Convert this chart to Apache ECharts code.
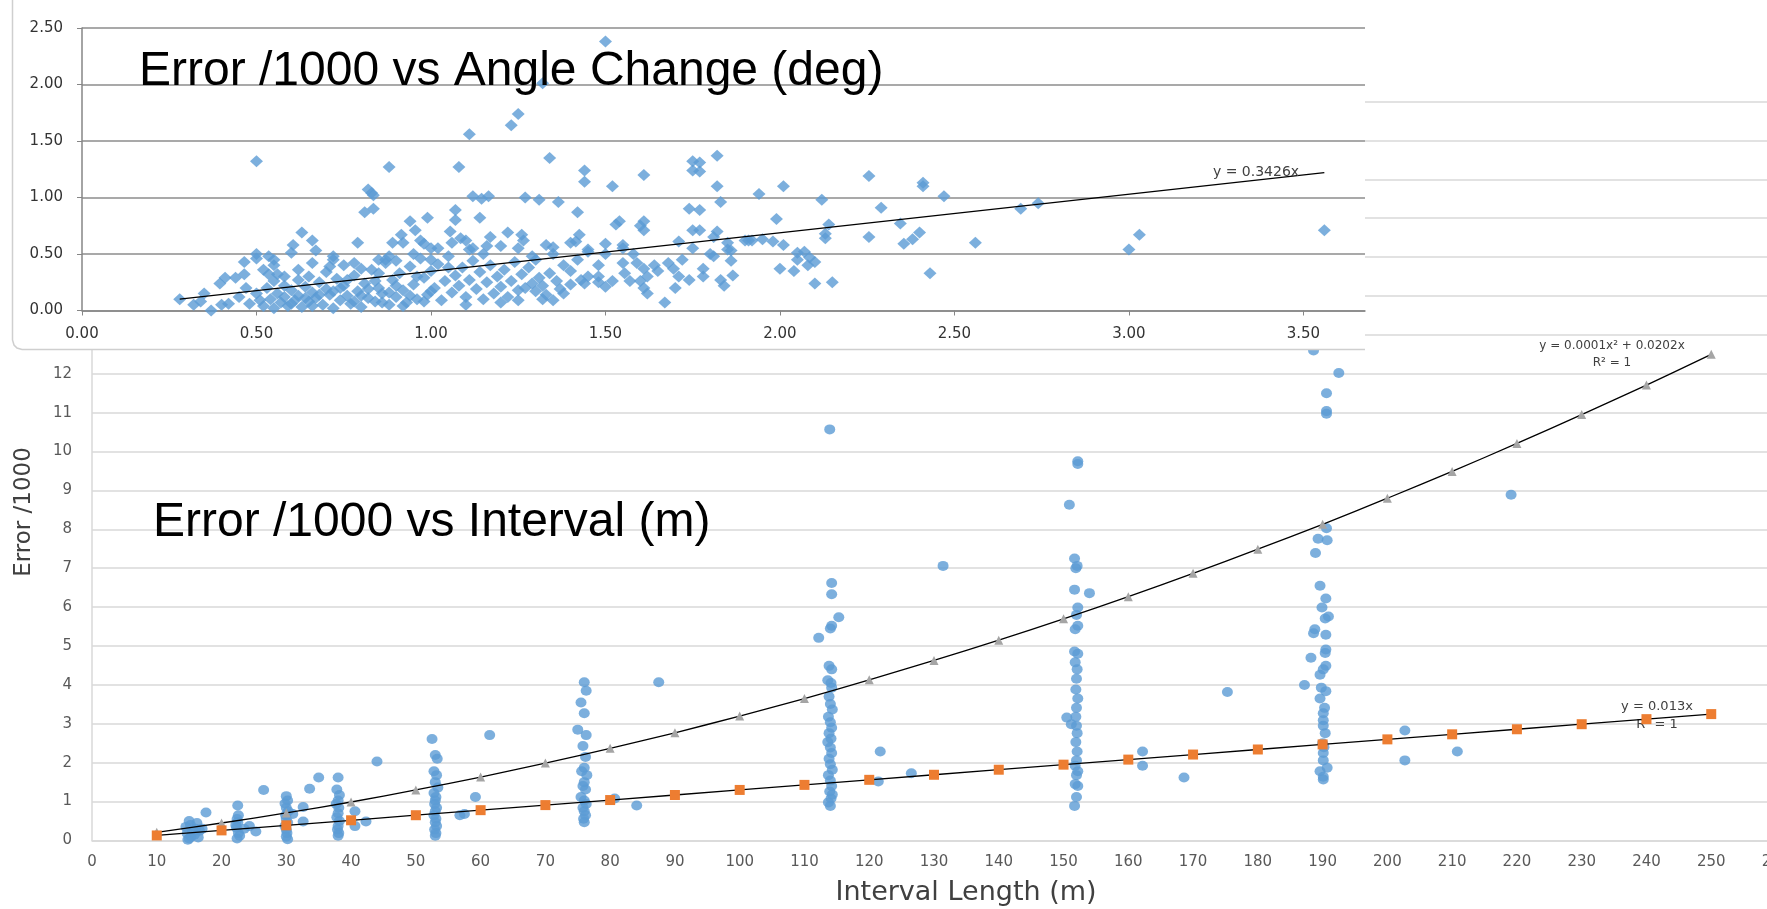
<!DOCTYPE html>
<html><head><meta charset="utf-8">
<script src="https://cdn.jsdelivr.net/npm/echarts@6.0.0/dist/echarts.min.js"></script>
<style>html,body{margin:0;padding:0;background:#fff;overflow:hidden}#c{width:1767px;height:909px}</style>
</head><body><div id="c"></div>
<script>
// ---------- Bottom chart: Error /1000 vs Interval (m) ----------
const intervalTitle = 'Error /1000 vs Interval (m)';
const intervalXName = 'Interval Length (m)';
const intervalYName = 'Error /1000';
const intervalXRange = [0, 260, 10];
const intervalYRange = [0, 19, 1];
const intervalErrPoints = [
  [15,0.05],[15.3,0.1],[14.7,0.18],[16,0.3],[15.2,0.4],[16.6,0.25],[15.8,0.15],[14.5,0.35],[16.2,0.45],[15,0.5],[17,0.3],[14.8,0.02],[16.4,0.08],[15.5,0.22],[17.6,0.72],
  [22.5,0.9],[22.6,0.65],[22.4,0.55],[22.5,0.47],[22.3,0.33],[22.6,0.19],[22.4,0.05],[22.8,0.12],[22.2,0.4],[24.3,0.37],[25.3,0.23],[26.5,1.3],[23.5,0.3],
  [30,1.14],[30.2,1.03],[29.8,0.95],[30,0.84],[30.3,0.75],[29.9,0.65],[30,0.56],[30.2,0.46],[29.8,0.37],[30,0.28],[30.1,0.19],[30,0.1],[30.2,0.03],[32.6,0.86],[32.6,0.49],[33.6,1.33],[35,1.62],[31,0.68],
  [38,1.62],[37.8,1.31],[38.2,1.17],[38,1.03],[37.7,0.94],[38.1,0.84],[38,0.7],[37.8,0.6],[38.2,0.5],[38,0.37],[37.9,0.28],[38.1,0.19],[38,0.12],[40.6,0.75],[40.6,0.37],[42.3,0.49],[44,2.03],
  [52.5,2.61],[53,2.2],[53.3,2.1],[52.8,1.78],[53.2,1.68],[53,1.5],[53.4,1.36],[52.8,1.22],[53.1,1.12],[53,1.03],[52.9,0.94],[53.2,0.84],[53,0.75],[52.8,0.65],[53.1,0.56],[53,0.47],[53.2,0.37],[52.9,0.28],[53.1,0.19],[53,0.12],[56.8,0.65],[59.2,1.12],[61.4,2.71],[57.5,0.68],
  [76,4.07],[76.3,3.85],[75.5,3.55],[76,3.27],[75,2.85],[76.3,2.71],[75.8,2.43],[76.2,2.15],[76,1.87],[75.6,1.78],[76.4,1.68],[76,1.5],[75.8,1.4],[76.2,1.31],[75.5,1.12],[76,1.03],[76.3,0.94],[75.8,0.84],[76,0.75],[76.2,0.65],[75.9,0.56],[76,0.47],[80.7,1.08],[84.1,0.9],[87.5,4.07],
  [113.9,10.57],[114.2,6.62],[114.2,6.33],[115.3,5.74],[114.2,5.52],[114,5.45],[112.2,5.21],[113.8,4.49],[114.2,4.4],[113.6,4.12],[114.1,4.05],[114.2,3.93],[113.8,3.7],[114,3.51],[114.3,3.37],[113.7,3.18],[114,3.04],[114.2,2.9],[113.8,2.76],[114.1,2.62],[113.6,2.53],[114,2.39],[114.2,2.25],[113.8,2.1],[114,1.96],[114.3,1.82],[113.7,1.68],[114,1.54],[114.2,1.4],[113.9,1.26],[114.1,1.08],[114,0.89],[113.7,0.98],[114.3,1.18],
  [121.7,2.29],[121.4,1.52],[126.5,1.73],[131.4,7.06],
  [152.2,9.75],[152.2,9.68],[150.9,8.63],[151.7,7.25],[152.1,7.06],[151.9,7.0],[151.7,6.45],[154,6.36],[152.2,5.99],[152,5.8],[152.2,5.52],[151.8,5.43],[151.7,4.86],[152.2,4.8],[151.8,4.58],[152.1,4.4],[152,4.16],[151.9,3.88],[152.2,3.65],[152,3.41],[151.9,3.18],[150.5,3.16],[151.2,2.99],[152,2.95],[152.1,2.76],[151.9,2.53],[152.1,2.29],[152,2.06],[151.8,1.92],[152.2,1.78],[152,1.68],[151.8,1.45],[152.2,1.4],[152,1.12],[151.7,0.89],
  [162.2,2.29],[162.2,1.92],[168.6,1.62],[175.3,3.82],[187.2,4.0],
  [188.6,12.6],[192.5,12.02],[190.6,11.5],[190.6,11.04],[190.6,10.97],[190.6,8.03],[189.3,7.76],[190.7,7.72],[188.9,7.39],[189.6,6.55],[190.5,6.22],[189.9,5.99],[190.4,5.71],[190.9,5.76],[188.8,5.43],[188.6,5.33],[190.5,5.29],[190.5,4.91],[190.4,4.82],[188.2,4.7],[190.5,4.49],[190.1,4.4],[189.6,4.26],[189.8,3.93],[190.5,3.84],[189.6,3.65],[190.3,3.41],[190.1,3.27],[190.1,3.09],[190.1,2.95],[190.4,2.76],[190.1,2.25],[190.1,2.06],[190.7,1.87],[189.6,1.78],[190.1,1.64],[190.1,1.57],[190,2.5],[190.2,2.4],
  [202.7,2.83],[202.7,2.06],[210.8,2.29],[219.1,8.89]
];
const fitX = [10,20,30,40,50,60,70,80,90,100,110,120,130,140,150,160,170,180,190,200,210,220,230,240,250];
const linearFitY = [0.13,0.26,0.39,0.52,0.65,0.78,0.91,1.04,1.17,1.30,1.43,1.56,1.69,1.82,1.95,2.08,2.21,2.34,2.47,2.60,2.73,2.86,2.99,3.12,3.25];
const polyFitY = [0.21,0.45,0.71,0.99,1.30,1.63,1.99,2.37,2.77,3.20,3.65,4.13,4.63,5.15,5.70,6.27,6.87,7.49,8.13,8.80,9.49,10.21,10.95,11.71,12.50];
const polyEqText = ['y = 0.0001x² + 0.0202x', 'R² = 1'];
const linEqText = ['y = 0.013x', 'R² = 1'];

// ---------- Top chart: Error /1000 vs Angle Change (deg) ----------
const angleTitle = 'Error /1000 vs Angle Change (deg)';
const angleXRange = [0, 3.6765, 0.5];
const angleYRange = [0, 2.5, 0.5];
const angleErrPoints = [
  [0.28,0.10],[0.32,0.05],[0.34,0.08],[0.35,0.15],[0.37,0.00],[0.40,0.05],[0.42,0.06],[0.395,0.24],[0.41,0.29],[0.44,0.29],[0.465,0.32],[0.465,0.43],[0.50,0.46],[0.535,0.48],[0.50,0.50],[0.50,1.32],[0.535,0.32],[0.56,0.32],[0.55,0.40],[0.60,0.51],[0.605,0.58],[0.63,0.69],[0.66,0.62],[0.67,0.53],[0.72,0.48],[0.71,0.39],[0.79,0.60],[0.82,1.07],[0.83,1.04],[0.835,1.02],[0.81,0.87],[0.835,0.90],[0.88,1.27],[0.87,0.45],[0.89,0.60],[0.915,0.67],[0.94,0.79],[0.955,0.71],[0.99,0.82],[0.98,0.59],[1.0,0.55],[1.08,1.27],[1.07,0.80],[1.07,0.89],[1.055,0.70],[1.085,0.64],[1.10,0.62],[1.11,0.54],[1.11,1.56],[1.12,1.01],[1.145,0.99],[1.165,1.01],[1.14,0.82],[1.17,0.65],[1.20,0.57],[1.22,0.69],[1.23,1.64],[1.25,1.74],[1.27,1.00],[1.31,0.98],[1.32,2.01],[1.34,1.35],[1.365,0.96],[1.26,0.67],[1.265,0.62],[1.29,0.48],[1.33,0.58],[1.35,0.56],[1.42,0.87],[1.44,1.24],[1.44,1.14],[1.425,0.67],[1.415,0.61],[1.45,0.54],[1.50,2.38],[1.52,1.10],[1.50,0.59],[1.54,0.79],[1.53,0.76],[1.55,0.58],[1.61,1.20],[1.61,0.79],[1.61,0.71],[1.60,0.75],[1.43,0.27],[1.44,0.24],[1.48,0.40],[1.48,0.30],[1.50,0.21],[1.52,0.26],[1.555,0.33],[1.57,0.26],[1.59,0.42],[1.61,0.37],[1.61,0.20],[1.62,0.30],[1.64,0.40],[1.67,0.07],[1.68,0.42],[1.695,0.37],[1.71,0.30],[1.74,0.27],[1.74,0.90],[1.75,1.32],[1.75,1.24],[1.71,0.61],[1.75,0.71],
  [1.82,1.37],[1.82,1.10],[1.83,0.96],[1.77,1.31],[1.77,1.23],[1.77,0.89],[1.77,0.71],[1.82,0.70],[1.81,0.65],[1.81,0.48],[1.78,0.37],[1.83,0.27],[1.84,0.22],[1.85,0.54],[1.86,0.53],[1.86,0.44],[1.865,0.31],[1.91,0.62],[1.92,0.62],[1.94,1.03],[1.98,0.61],[1.99,0.81],[2.0,0.37],[2.01,1.10],[2.01,0.58],[2.04,0.35],[2.05,0.51],[2.07,0.52],[2.08,0.40],[2.085,0.47],[2.10,0.24],[2.12,0.98],[2.13,0.64],[2.13,0.68],[2.14,0.76],[2.255,1.19],[2.255,0.65],[2.29,0.91],[2.345,0.77],[2.355,0.59],[2.38,0.63],[2.40,0.69],[2.41,1.13],[2.41,1.10],[2.43,0.33],[2.47,1.01],[2.56,0.60],[2.69,0.90],[2.74,0.95],[3.0,0.54],[3.03,0.67],[3.56,0.71],
  [0.45,0.12],[0.47,0.20],[0.48,0.06],[0.50,0.15],[0.51,0.09],[0.52,0.04],[0.53,0.20],[0.54,0.10],[0.55,0.26],[0.55,0.02],[0.56,0.15],[0.57,0.07],[0.58,0.22],[0.58,0.12],[0.59,0.04],[0.60,0.18],[0.60,0.06],[0.61,0.09],[0.62,0.27],[0.62,0.13],[0.63,0.03],[0.64,0.21],[0.64,0.11],[0.65,0.08],[0.65,0.30],[0.66,0.16],[0.66,0.04],[0.67,0.11],[0.68,0.25],[0.68,0.14],[0.69,0.05],[0.70,0.19],[0.70,0.34],[0.71,0.14],[0.72,0.02],[0.72,0.17],[0.73,0.28],[0.74,0.09],[0.74,0.20],[0.75,0.22],[0.75,0.40],[0.76,0.13],[0.76,0.27],[0.77,0.06],[0.78,0.31],[0.78,0.08],[0.79,0.17],[0.80,0.03],[0.80,0.13],[0.80,0.37],[0.81,0.24],[0.82,0.11],[0.82,0.19],[0.83,0.36],[0.84,0.08],[0.84,0.26],[0.85,0.20],[0.85,0.33],[0.86,0.15],[0.86,0.07],[0.87,0.42],[0.88,0.05],[0.88,0.16],[0.89,0.27],[0.90,0.12],[0.90,0.22],[0.90,0.44],[0.91,0.33],[0.92,0.18],[0.92,0.04],[0.93,0.07],[0.94,0.39],[0.94,0.13],[0.95,0.23],[0.95,0.50],[0.96,0.10],[0.96,0.30],[0.97,0.46],[0.98,0.29],[0.98,0.08],[0.99,0.14],[1.00,0.35],[1.00,0.17],[1.00,0.45],[1.01,0.20],[1.02,0.41],[1.02,0.55],[1.03,0.09],[1.04,0.26],[1.05,0.48],[1.05,0.38],[1.06,0.16],[1.07,0.31],[1.08,0.22],[1.09,0.38],[1.10,0.12],[1.10,0.05],[1.11,0.27],[1.12,0.44],[1.12,0.55],[1.13,0.19],[1.14,0.34],[1.15,0.10],[1.15,0.50],[1.16,0.25],[1.17,0.40],[1.18,0.15],[1.19,0.30],[1.20,0.21],[1.20,0.07],[1.21,0.36],[1.22,0.12],[1.23,0.26],[1.24,0.43],[1.25,0.09],[1.25,0.18],[1.25,0.55],[1.26,0.32],[1.27,0.20],[1.28,0.38],[1.29,0.24],[1.30,0.17],[1.30,0.45],[1.31,0.29],[1.32,0.22],[1.32,0.10],[1.33,0.14],[1.34,0.33],[1.35,0.09],[1.35,0.50],[1.36,0.26],[1.37,0.19],[1.38,0.15],[1.40,0.23],[1.40,0.35],[1.42,0.45],[1.45,0.30],[1.48,0.25],[1.50,0.50],[1.55,0.42],[1.58,0.50],[1.60,0.26],[1.62,0.15],[1.65,0.35],[1.70,0.20],[1.72,0.45],[1.75,0.55],[1.78,0.30],[1.80,0.50],[1.85,0.60],[1.90,0.62],[1.95,0.63],[2.05,0.45],[2.10,0.43],[2.15,0.25],[0.92,0.60],[0.88,0.48],[0.97,0.62],[0.66,0.42],[0.62,0.36],[0.58,0.30],[1.06,0.60],[1.16,0.57],[1.40,0.60],[1.38,0.40],[1.45,0.52],[1.55,0.55],[0.85,0.45],[0.78,0.42],[0.72,0.45],[0.55,0.45],[0.52,0.36]
];
const angleFitX = [0.28, 3.56];
const angleFitY = [0.10, 1.22];
const angleEqText = 'y = 0.3426x';

// ---------- build ----------
const BLUE = '#5b9bd5', ORANGE = '#ed7d31', GRAY = '#a5a5a5';
const chart = echarts.init(document.getElementById('c'), null, {renderer: 'canvas'});
const zip = (xs, ys) => xs.map((x, i) => [x, ys[i]]);
const fmt2 = v => v.toFixed(2);

const option = {
  animation: false,
  backgroundColor: '#fff',
  grid: [
    {left: 92, right: -9, top: 101.5, bottom: 68.5, outerBoundsMode: 'none', containLabel: false},
    {left: 82, right: 402, top: 28, bottom: 598.5, outerBoundsMode: 'none', containLabel: false}
  ],
  xAxis: [
    {type: 'value', gridIndex: 0, min: intervalXRange[0], max: intervalXRange[1], interval: intervalXRange[2],
     axisLine: {show: true, lineStyle: {color: '#d9d9d9', width: 1.5}}, axisTick: {show: false}, splitLine: {show: false},
     axisLabel: {color: '#595959', fontSize: 15, fontFamily: 'DejaVu Sans', margin: 14}},
    {type: 'value', gridIndex: 1, min: angleXRange[0], max: angleXRange[1], interval: angleXRange[2], z: 12,
     axisLine: {show: true, lineStyle: {color: '#868686', width: 1.5}},
     axisTick: {show: true, length: 5, lineStyle: {color: '#868686'}}, splitLine: {show: false},
     axisLabel: {color: '#333', fontSize: 15, fontFamily: 'DejaVu Sans', margin: 16, formatter: fmt2, showMaxLabel: false}}
  ],
  yAxis: [
    {type: 'value', gridIndex: 0, min: intervalYRange[0], max: intervalYRange[1], interval: intervalYRange[2],
     axisLine: {show: true, lineStyle: {color: '#d9d9d9', width: 1.5}}, axisTick: {show: false},
     splitLine: {show: true, lineStyle: {color: '#d9d9d9', width: 1.5}},
     axisLabel: {color: '#595959', fontSize: 15, fontFamily: 'DejaVu Sans', margin: 20}},
    {type: 'value', gridIndex: 1, min: angleYRange[0], max: angleYRange[1], interval: angleYRange[2], z: 12,
     axisLine: {show: true, lineStyle: {color: '#868686', width: 1.5}},
     axisTick: {show: true, length: 5, lineStyle: {color: '#868686'}},
     splitLine: {show: true, lineStyle: {color: '#8c8c8c', width: 1.5}},
     axisLabel: {color: '#333', fontSize: 15, fontFamily: 'DejaVu Sans', margin: 19, formatter: fmt2}}
  ],
  series: [
    {type: 'scatter', xAxisIndex: 0, yAxisIndex: 0, data: intervalErrPoints, symbol: 'circle', symbolSize: [11, 10],
     itemStyle: {color: BLUE}, z: 2},
    {type: 'line', xAxisIndex: 0, yAxisIndex: 0, data: zip(fitX, polyFitY), symbol: 'triangle', symbolSize: 9,
     itemStyle: {color: GRAY}, lineStyle: {color: '#000', width: 1.3}, smooth: 0.3, z: 3},
    {type: 'line', xAxisIndex: 0, yAxisIndex: 0, data: zip(fitX, linearFitY), symbol: 'rect', symbolSize: 10,
     itemStyle: {color: ORANGE}, lineStyle: {color: '#000', width: 1.3}, z: 3},
    {type: 'scatter', xAxisIndex: 1, yAxisIndex: 1, data: angleErrPoints, symbol: 'diamond', symbolSize: [13, 12],
     itemStyle: {color: BLUE}, z: 13},
    {type: 'line', xAxisIndex: 1, yAxisIndex: 1, data: zip(angleFitX, angleFitY), symbol: 'none',
     lineStyle: {color: '#000', width: 1.3}, z: 14}
  ],
  graphic: [
    {type: 'text', x: 1612, y: 346, z: 1, style: {text: polyEqText[0], font: '12px "DejaVu Sans"', fill: '#404040', textAlign: 'center', textVerticalAlign: 'middle'}},
    {type: 'text', x: 1612, y: 363, z: 1, style: {text: polyEqText[1], font: '12px "DejaVu Sans"', fill: '#404040', textAlign: 'center', textVerticalAlign: 'middle'}},
    {type: 'text', x: 1657, y: 707, z: 1, style: {text: linEqText[0], font: '13px "DejaVu Sans"', fill: '#404040', textAlign: 'center', textVerticalAlign: 'middle'}},
    {type: 'text', x: 1657, y: 725, z: 1, style: {text: linEqText[1], font: '13px "DejaVu Sans"', fill: '#404040', textAlign: 'center', textVerticalAlign: 'middle'}},
    {type: 'text', x: 966, y: 893, z: 5, style: {text: intervalXName, font: '27px "DejaVu Sans"', fill: '#404040', textAlign: 'center', textVerticalAlign: 'middle'}},
    {type: 'text', x: 24, y: 512, z: 5, rotation: Math.PI / 2, style: {text: intervalYName, font: '23px "DejaVu Sans"', fill: '#404040', textAlign: 'center', textVerticalAlign: 'middle'}},
    {type: 'rect', z: 10, shape: {x: 12, y: -10, width: 1353, height: 359}, style: {fill: '#fff'}},
    {type: 'polyline', z: 11, shape: {points: [[12.5, -10], [12.5, 340], [14, 345], [17, 348], [22, 349.5], [1365, 349.5]]},
     style: {stroke: '#cfcfcf', lineWidth: 1.5, fill: null}},
    {type: 'text', x: 1256, y: 172, z: 15, style: {text: angleEqText, font: '14px "DejaVu Sans"', fill: '#404040', textAlign: 'center', textVerticalAlign: 'middle'}},
    {type: 'text', x: 139, y: 72, z: 20, style: {text: angleTitle, font: '48px "Liberation Sans"', fill: '#000', textAlign: 'left', textVerticalAlign: 'middle'}},
    {type: 'text', x: 153, y: 523, z: 20, style: {text: intervalTitle, font: '48px "Liberation Sans"', fill: '#000', textAlign: 'left', textVerticalAlign: 'middle'}}
  ]
};
chart.setOption(option);
</script>
</body></html>
